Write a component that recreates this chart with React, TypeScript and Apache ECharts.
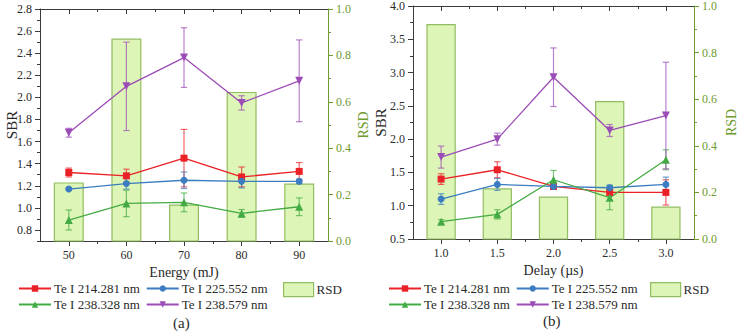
import React, { useEffect, useRef } from "react";
import * as echarts from "echarts";

// ---------- data ----------
const energy = [50, 60, 70, 80, 90];
const delay = [1.0, 1.5, 2.0, 2.5, 3.0];

const seriesNames = ["Te I 214.281 nm", "Te I 225.552 nm", "Te I 238.328 nm", "Te I 238.579 nm"];

// (a) SBR vs energy
const sbrA214 = [1.32, 1.29, 1.45, 1.28, 1.33];
const errA214 = [0.04, 0.06, 0.26, 0.09, 0.08];
const sbrA225 = [1.17, 1.22, 1.25, 1.24, 1.24];
const errA225 = [0.01, 0.05, 0.075, 0.06, 0.02];
const sbrA328 = [0.89, 1.04, 1.05, 0.95, 1.01];
const errA328 = [0.09, 0.12, 0.085, 0.035, 0.08];
const sbrA579 = [1.68, 2.1, 2.36, 1.95, 2.15];
const errA579 = [0.04, 0.4, 0.27, 0.065, 0.37];
const rsdA = [0.25, 0.87, 0.155, 0.64, 0.245];

// (b) SBR vs delay
const sbrB214 = [1.4, 1.54, 1.29, 1.2, 1.2];
const errB214 = [0.08, 0.12, 0.04, 0.04, 0.19];
const sbrB225 = [1.1, 1.32, 1.29, 1.27, 1.32];
const errB225 = [0.08, 0.09, 0.02, 0.04, 0.11];
const sbrB328 = [0.76, 0.87, 1.39, 1.12, 1.69];
const errB328 = [0.03, 0.07, 0.14, 0.18, 0.15];
const sbrB579 = [1.73, 2.0, 2.93, 2.13, 2.355];
const errB579 = [0.165, 0.09, 0.44, 0.09, 0.8];
const rsdB = [0.92, 0.215, 0.18, 0.59, 0.137];

// tick values
const xTicksA = [50, 60, 70, 80, 90];
const xMinorA = [55, 65, 75, 85];
const yTicksA = [0.8, 1.0, 1.2, 1.4, 1.6, 1.8, 2.0, 2.2, 2.4, 2.6, 2.8];
const yMinorA = [0.7, 0.9, 1.1, 1.3, 1.5, 1.7, 1.9, 2.1, 2.3, 2.5, 2.7];
const xTicksB = [1.0, 1.5, 2.0, 2.5, 3.0];
const xMinorB = [1.25, 1.75, 2.25, 2.75];

// ---------- styles ----------
const FONT = "Liberation Serif, Times New Roman, serif";
const TXT = "#2a2a2a";
const AXIS = "#3a3a3a";
const GREEN_AX = "#6f9a2e";
const BAR_FILL = "#ddf5b6";
const BAR_BORDER = "#93bd62";
const COLORS = ["#ea2228", "#3b7dc0", "#44ab44", "#9c4cb6"];
const SYMBOLS = ["rect", "circle", "triangle", "triangle"];
const ROT = [0, 0, 0, 180];
const SIZES = [7, 7, 8, 8];

function App() {
  const ref = useRef<HTMLDivElement>(null);
  useEffect(() => {
    if (!ref.current) return;
    const chart = echarts.init(ref.current, null, { renderer: "svg" });

    const mainX = (grid: number, min: number, max: number, ticks: number[], name: string, dec: number) => ({
      type: "value", gridIndex: grid, position: "bottom", min, max,
      name, nameLocation: "middle", nameGap: 24, nameMoveOverlap: false,
      nameTextStyle: { fontFamily: FONT, fontSize: 14, color: TXT },
      axisLine: { show: true, onZero: false, lineStyle: { color: AXIS, width: 1 } },
      axisTick: { show: true, inside: false, length: 5, customValues: ticks, lineStyle: { color: AXIS } },
      axisLabel: { show: true, margin: 8, customValues: ticks, fontFamily: FONT, fontSize: 12, color: TXT,
        formatter: (v: number) => v.toFixed(dec) },
      splitLine: { show: false },
    });
    const tickOnlyX = (grid: number, min: number, max: number, ticks: number[], pos: string, len: number, inside: boolean, line: boolean) => ({
      type: "value", gridIndex: grid, position: pos, min, max,
      axisLine: { show: line, onZero: false, lineStyle: { color: AXIS, width: 1 } },
      axisTick: { show: true, inside, length: len, customValues: ticks, lineStyle: { color: AXIS } },
      axisLabel: { show: false },
      splitLine: { show: false },
    });
    const rsdAxis = (grid: number, gap: number) => ({
      type: "value", gridIndex: grid, position: "right", min: 0, max: 1, interval: 0.2,
      name: "RSD", nameLocation: "middle", nameGap: gap, nameRotate: 90, nameMoveOverlap: false,
      nameTextStyle: { fontFamily: FONT, fontSize: 14, color: GREEN_AX },
      axisLine: { show: true, lineStyle: { color: GREEN_AX, width: 1 } },
      axisTick: { show: true, inside: false, length: 5, lineStyle: { color: GREEN_AX } },
      minorTick: { show: true, splitNumber: 2, length: 3, lineStyle: { color: GREEN_AX } },
      axisLabel: { margin: 8, fontFamily: FONT, fontSize: 12, color: GREEN_AX, formatter: (v: number) => v.toFixed(1) },
      splitLine: { show: false },
    });

    const xAxis = [
      mainX(0, 45, 95, xTicksA, "Energy (mJ)", 0),
      tickOnlyX(0, 45, 95, xMinorA, "bottom", 3, false, false),
      tickOnlyX(0, 45, 95, xTicksA, "top", 5, true, true),
      tickOnlyX(0, 45, 95, xMinorA, "top", 3, true, false),
      mainX(1, 0.75, 3.25, xTicksB, "Delay (\u00b5s)", 1),
      tickOnlyX(1, 0.75, 3.25, xMinorB, "bottom", 3, false, false),
      tickOnlyX(1, 0.75, 3.25, xTicksB, "top", 5, true, true),
      tickOnlyX(1, 0.75, 3.25, xMinorB, "top", 3, true, false),
    ];

    const yAxis = [
      {
        type: "value", gridIndex: 0, position: "left", min: 0.7, max: 2.8,
        name: "SBR", nameLocation: "middle", nameGap: 21, nameRotate: 90, nameMoveOverlap: false,
        nameTextStyle: { fontFamily: FONT, fontSize: 15, color: TXT },
        axisLine: { show: true, lineStyle: { color: AXIS, width: 1 } },
        axisTick: { show: true, inside: false, length: 5, customValues: yTicksA, lineStyle: { color: AXIS } },
        axisLabel: { margin: 8, customValues: yTicksA, fontFamily: FONT, fontSize: 12, color: TXT, formatter: (v: number) => v.toFixed(1) },
        splitLine: { show: false },
      },
      {
        type: "value", gridIndex: 0, position: "left", min: 0.7, max: 2.8,
        axisLine: { show: false },
        axisTick: { show: true, inside: false, length: 3, customValues: yMinorA, lineStyle: { color: AXIS } },
        axisLabel: { show: false },
        splitLine: { show: false },
      },
      rsdAxis(0, 28),
      {
        type: "value", gridIndex: 1, position: "left", min: 0.5, max: 4.0, interval: 0.5,
        name: "SBR", nameLocation: "middle", nameGap: 25, nameRotate: 90, nameMoveOverlap: false,
        nameTextStyle: { fontFamily: FONT, fontSize: 15, color: TXT },
        axisLine: { show: true, lineStyle: { color: AXIS, width: 1 } },
        axisTick: { show: true, inside: false, length: 5, lineStyle: { color: AXIS } },
        minorTick: { show: true, splitNumber: 2, length: 3, lineStyle: { color: AXIS } },
        axisLabel: { margin: 8, fontFamily: FONT, fontSize: 12, color: TXT, formatter: (v: number) => v.toFixed(1) },
        splitLine: { show: false },
      },
      rsdAxis(1, 30),
    ];

    const barSeries = (xs: number[], vals: number[], xi: number, yi: number, w: number) => ({
      type: "custom", name: "RSD", xAxisIndex: xi, yAxisIndex: yi, z: 1,
      itemStyle: { color: BAR_FILL, borderColor: BAR_BORDER, borderWidth: 1.2 },
      data: xs.map((x, i) => [x, vals[i]]),
      encode: { x: 0, y: 1 },
      renderItem: (params: any, api: any) => {
        const x = api.value(0), v = api.value(1);
        const p0 = api.coord([x - w / 2, v]);
        const p1 = api.coord([x + w / 2, 0]);
        return {
          type: "rect",
          shape: { x: p0[0], y: p0[1], width: p1[0] - p0[0], height: p1[1] - p0[1] },
          style: { fill: BAR_FILL, stroke: BAR_BORDER, lineWidth: 1.2 },
        };
      },
    });

    const errSeries = (xs: number[], vals: number[], errs: number[], xi: number, yi: number, color: string) => ({
      type: "custom", xAxisIndex: xi, yAxisIndex: yi, z: 3, silent: true,
      data: xs.map((x, i) => [x, vals[i], errs[i]]),
      encode: { x: 0, y: 1 },
      renderItem: (params: any, api: any) => {
        const x = api.value(0), v = api.value(1), e = api.value(2);
        const t = api.coord([x, v + e]);
        const b = api.coord([x, v - e]);
        const h = 3.2;
        const st = { stroke: color, lineWidth: 1.2, opacity: 0.7 };
        return {
          type: "group",
          children: [
            { type: "line", shape: { x1: t[0], y1: t[1], x2: b[0], y2: b[1] }, style: st },
            { type: "line", shape: { x1: t[0] - h, y1: t[1], x2: t[0] + h, y2: t[1] }, style: st },
            { type: "line", shape: { x1: b[0] - h, y1: b[1], x2: b[0] + h, y2: b[1] }, style: st },
          ],
        };
      },
    });

    const lineSeries = (idx: number, xs: number[], vals: number[], xi: number, yi: number) => ({
      type: "line", name: seriesNames[idx], xAxisIndex: xi, yAxisIndex: yi, z: 4,
      data: xs.map((x, i) => [x, vals[i]]),
      symbol: SYMBOLS[idx], symbolSize: SIZES[idx], symbolRotate: ROT[idx],
      lineStyle: { color: COLORS[idx], width: 1.3 },
      itemStyle: { color: COLORS[idx] },
    });

    const A = [[sbrA214, errA214], [sbrA225, errA225], [sbrA328, errA328], [sbrA579, errA579]];
    const B = [[sbrB214, errB214], [sbrB225, errB225], [sbrB328, errB328], [sbrB579, errB579]];

    const series: any[] = [barSeries(energy, rsdA, 0, 2, 5), barSeries(delay, rsdB, 4, 4, 0.25)];
    A.forEach(([v, e], i) => series.push(errSeries(energy, v, e, 0, 0, COLORS[i])));
    B.forEach(([v, e], i) => series.push(errSeries(delay, v, e, 4, 3, COLORS[i])));
    A.forEach(([v], i) => series.push(lineSeries(i, energy, v, 0, 0)));
    B.forEach(([v], i) => series.push(lineSeries(i, delay, v, 4, 3)));

    const lineLegend = (left: number, top: number, names: string[]) => ({
      left, top, padding: 0, itemGap: 6, itemWidth: 32, itemHeight: 8,
      selectedMode: false,
      textStyle: { fontFamily: FONT, fontSize: 13, color: TXT, padding: [0, 0, 0, -2] },
      data: names,
    });
    const rsdLegend = (left: number, top: number) => ({
      left, top, padding: 0, itemWidth: 30, itemHeight: 14, selectedMode: false,
      textStyle: { fontFamily: FONT, fontSize: 13, color: TXT, padding: [0, 0, 0, -2] },
      data: [{ name: "RSD", icon: "rect", itemStyle: { color: BAR_FILL, borderColor: BAR_BORDER, borderWidth: 1.2 } }],
    });

    chart.setOption({
      animation: false,
      textStyle: { fontFamily: FONT },
      grid: [
        { left: 40, top: 9, width: 288, height: 232 },
        { left: 413, top: 5, width: 289, height: 234 },
      ],
      xAxis,
      yAxis,
      series,
      legend: [
        lineLegend(18, 282, [seriesNames[0], seriesNames[1]]),
        lineLegend(18, 298, [seriesNames[2], seriesNames[3]]),
        rsdLegend(283, 282),
        lineLegend(388, 282, [seriesNames[0], seriesNames[1]]),
        lineLegend(388, 298, [seriesNames[2], seriesNames[3]]),
        rsdLegend(650, 282),
      ],
      title: [
        { text: "(a)", left: 173, top: 315, padding: 0, textStyle: { fontFamily: FONT, fontSize: 15, fontWeight: "normal", color: TXT } },
        { text: "(b)", left: 543, top: 313, padding: 0, textStyle: { fontFamily: FONT, fontSize: 15, fontWeight: "normal", color: TXT } },
      ],
    });
    return () => chart.dispose();
  }, []);
  return <div ref={ref} style={{ width: 739, height: 333, position: "absolute", left: 0, top: 0 }} />;
}

export default App;
